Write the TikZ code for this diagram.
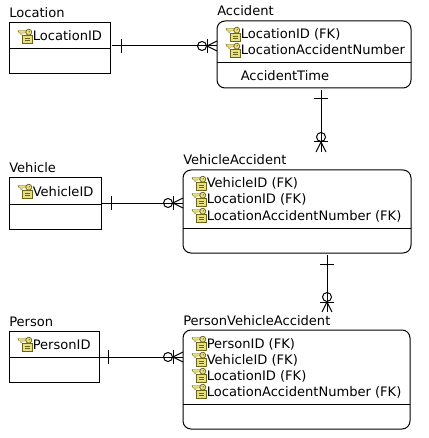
\documentclass[tikz,border=0pt]{standalone}
\usepackage{fontspec}
\setmainfont{DejaVu Sans}
\definecolor{keyfill}{HTML}{E9DE86}
\definecolor{keyline}{HTML}{6A6416}
\tikzset{
  x=0.75pt,y=-0.75pt,
  ent/.style={rectangle,minimum width=#1,inner sep=0pt,outer sep=0pt,anchor=north west},
  lbl/.style={inner sep=0pt,anchor=base west,font=\fontsize{9.8pt}{12pt}\selectfont,text=black},
  ln/.style={draw=black,line width=0.75pt},
  pics/keyicon/.style={code={
    \fill[keyfill,draw=keyline,line width=0.45pt] (4.5,6.5) rectangle (14,14);
    \draw[keyline,line width=0.5pt] (6.5,9)--(12,9) (6.5,11.5)--(12,11.5);
    \fill[keyfill,draw=keyline,line width=0.35pt] (0,1.5)--(8,1.5)--(8,4)--(4,4)--(4,5.5)--(2.5,5.5)--(2.5,4)--(1.2,4)--cycle;
    \fill[keyfill,draw=keyline,line width=0.55pt] (10.8,3.2) circle[radius=3];
    \fill[keyline] (11.2,2.8) circle[radius=0.7];
  }},
  pics/onetick/.style={code={\draw[ln] (0,-7)--(0,7);}},
  pics/zeromany/.style={code={
    \draw[ln] (-15,0) circle[radius=4.5];
    \draw[ln] (-10,-7)--(-10,7);
    \draw[ln] (-10,0)--(0,-5) (-10,0)--(0,5);
  }}
}
\begin{document}
\begin{tikzpicture}
\useasboundingbox (0,0) rectangle (428,438);
% entities
\draw[ln] (9,23) rectangle (110,74) (9,49)--(110,49);
\node[ent=75.75pt,minimum height=38.25pt] (location) at (9,23) {};
\node[lbl] (tloc) at (9,18) {Location};
\draw[ln,rounded corners=6pt] (217,21) rectangle (411,88);
\draw[ln] (217,63)--(411,63);
\node[ent=145.5pt,minimum height=50.25pt] (accident) at (217,21) {};
\node[lbl] (tacc) at (217,16) {Accident};
\draw[ln] (9,178) rectangle (101,229) (9,204)--(101,204);
\node[ent=69pt,minimum height=38.25pt] (vehicle) at (9,178) {};
\node[lbl] (tveh) at (9,173) {Vehicle};
\draw[ln,rounded corners=6pt] (183,170) rectangle (411,253);
\draw[ln] (183,228)--(411,228);
\node[ent=171pt,minimum height=62.25pt] (va) at (183,170) {};
\node[lbl] (tva) at (183,165) {VehicleAccident};
\draw[ln] (9,331) rectangle (99,382) (9,357)--(99,357);
\node[ent=67.5pt,minimum height=38.25pt] (person) at (9,331) {};
\node[lbl] (tper) at (9,326) {Person};
\draw[ln,rounded corners=6pt] (183,330) rectangle (410,429);
\draw[ln] (183,404)--(410,404);
\node[ent=170.25pt,minimum height=74.25pt] (pva) at (183,330) {};
\node[lbl] (tpva) at (183,325) {PersonVehicleAccident};
% rows
\pic at (18,29) {keyicon}; \node[lbl] (a1) at (32.5,41) {LocationID};
\pic at (226,27) {keyicon}; \node[lbl] (a2) at (240.5,39) {LocationID (FK)};
\pic at (226,43) {keyicon}; \node[lbl] (a3) at (240.5,55) {LocationAccidentNumber};
\node[lbl] (a4) at (240.5,81) {AccidentTime};
\pic at (18,184) {keyicon}; \node[lbl] (a5) at (32.5,196) {VehicleID};
\pic at (192,176) {keyicon}; \node[lbl] (a6) at (206.5,188) {VehicleID (FK)};
\pic at (192,192) {keyicon}; \node[lbl] (a7) at (206.5,204) {LocationID (FK)};
\pic at (192,208) {keyicon}; \node[lbl] (a8) at (206.5,220) {LocationAccidentNumber (FK)};
\pic at (18,337) {keyicon}; \node[lbl] (a9) at (32.5,349) {PersonID};
\pic at (192,336) {keyicon}; \node[lbl] (a10) at (206.5,348) {PersonID (FK)};
\pic at (192,352) {keyicon}; \node[lbl] (a11) at (206.5,364) {VehicleID (FK)};
\pic at (192,368) {keyicon}; \node[lbl] (a12) at (206.5,380) {LocationID (FK)};
\pic at (192,384) {keyicon}; \node[lbl] (a13) at (206.5,396) {LocationAccidentNumber (FK)};
% connectors
\draw[ln,shorten <=1.5pt] (location.east |- 0,46) -- (accident.west |- 0,46);
\pic at (121,46) {onetick};
\pic at (accident.west |- 0,46) {zeromany};
\draw[ln,shorten <=1.5pt] (accident.south -| 321,0) -- (321,152);
\pic at (321,99) [rotate=-90] {onetick};
\pic at (321,152) [rotate=-90] {zeromany};
\draw[ln] (vehicle.east |- 0,203) -- (va.west |- 0,203);
\pic at (111,203) {onetick};
\pic at (va.west |- 0,203) {zeromany};
\draw[ln,shorten <=1.5pt] (va.south -| 327,0) -- (327,312);
\pic at (327,264) [rotate=-90] {onetick};
\pic at (327,312) [rotate=-90] {zeromany};
\draw[ln,shorten <=1pt] (person.east |- 0,357) -- (pva.west |- 0,357);
\pic at (108,357) {onetick};
\pic at (pva.west |- 0,357) {zeromany};
\end{tikzpicture}
\end{document}
